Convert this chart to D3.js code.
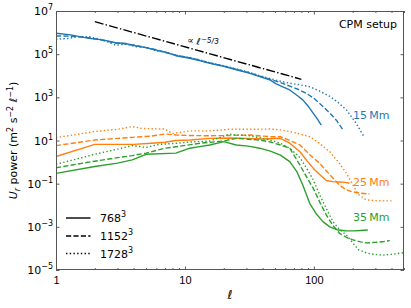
<!DOCTYPE html>
<html>
<head>
<meta charset="utf-8">
<script src="https://cdn.jsdelivr.net/npm/d3@7"></script>
<style>
  body { margin: 0; background: #fff; }
  svg { font-family: "DejaVu Sans", sans-serif; }
</style>
</head>
<body>
<svg id="chart" width="411" height="308"></svg>
<script>
// spectra: [ell, power]
var blue768 = [[1,9.3e5],[1.3,7.8e5],[1.8,5.4e5],[2.3,4.6e5],[2.9,3.4e5],[3.5,3.1e5],[4.2,2.4e5],[5,2.0e5],[6,1.55e5],[7.2,1.2e5],[8.5,8.5e4],[10.9,6.5e4],[13,5.0e4],[15.6,3.8e4],[20,2.7e4],[25,1.9e4],[31,1.35e4],[38,9.1e3],[46,6.3e3],[51,4.2e3],[58,3.0e3],[65,2.2e3],[76,1.1e3],[82,760],[90,400],[99,180],[107,95],[114,52]];
var blue1152 = [[1,7.0e5],[1.3,6.8e5],[1.8,5.8e5],[2.3,4.4e5],[2.9,3.3e5],[3.5,3.0e5],[4.2,2.5e5],[5,2.0e5],[6,1.6e5],[7.2,1.15e5],[8.5,9.0e4],[10.9,6.8e4],[13,5.2e4],[15.6,3.9e4],[20,2.8e4],[25,2.0e4],[31,1.4e4],[38,9.6e3],[46,6.8e3],[55,4.8e3],[65,3.3e3],[76,2.3e3],[88,1.5e3],[100,900],[118,370],[135,170],[150,85],[168,31]];
var blue1728 = [[1,4.9e5],[1.26,5.4e5],[1.5,6.5e5],[1.8,6.5e5],[2.3,4.6e5],[2.9,2.6e5],[3.5,2.9e5],[4.2,2.2e5],[5,2.1e5],[6,1.4e5],[7.2,1.25e5],[8.5,8.8e4],[10.9,7.0e4],[13,5.4e4],[15.6,4.0e4],[20,2.9e4],[25,2.1e4],[31,1.5e4],[38,1.0e4],[46,7.3e3],[55,5.6e3],[65,4.5e3],[78,3.8e3],[93,3.1e3],[110,2.0e3],[133,1.1e3],[155,560],[179,260],[210,70],[245,15]];

var orange768 = [[1,1.8],[2,6.6],[3,6.6],[4,6.6],[5.5,7.5],[7,8.3],[8.5,10],[11,10.5],[15.6,12.6],[22,13],[30,12.5],[40,11.7],[46,12],[55,12.6],[65,7.5],[78,3.0],[88,1.2],[99,0.51],[112,0.25],[125,0.14],[140,0.125],[158,0.12],[175,0.115],[189,0.105]];
var orange1152 = [[1,5.8],[2,10.5],[3,12.5],[3.9,14],[5.5,16],[7,20],[8.5,18],[11,17],[15.6,16.6],[22,17],[32,18],[40,16],[46,15],[55,15],[65,10],[78,6.2],[93,2.2],[111,0.87],[130,0.3],[158,0.087],[175,0.055],[195,0.043],[230,0.036],[270,0.033]];
var orange1728 = [[1,13.5],[2,26],[3,33],[3.9,44],[4.7,36],[7,34],[8,21],[11,28],[15.6,28],[22,33],[32,33],[46,34],[55,31],[65,26],[78,20],[93,15],[110,7.5],[133,3.0],[155,1.0],[179,0.30],[200,0.09],[223,0.030],[250,0.019],[270,0.017],[330,0.016],[400,0.016]];

var green768 = [[1,0.30],[2,0.62],[3,0.9],[3.9,1.26],[5,2.3],[8.5,2.6],[10.9,4.4],[13,5.2],[15.6,6.2],[20,8.9],[25,6.2],[31,5.5],[38,4.4],[46,3.2],[55,2.1],[65,1.05],[74,0.35],[82,0.087],[93,0.012],[105,3.8e-3],[118,1.7e-3],[133,1.0e-3],[154,7.1e-4],[175,6.6e-4],[201,6.5e-4],[230,6.8e-4],[262,7.1e-4]];
var green1152 = [[1,0.55],[2,1.1],[3,1.6],[3.9,2.0],[5,2.6],[7,4.4],[8.5,5.1],[13,7.4],[20,9.5],[25,12.6],[31,11.5],[38,10.5],[46,8.5],[55,6.2],[65,4.4],[78,0.72],[88,0.2],[99,0.06],[111,0.014],[125,3.5e-3],[140,1.2e-3],[158,5e-4],[180,3.2e-4],[201,2.5e-4],[230,2.0e-4],[254,1.8e-4],[300,1.9e-4],[350,2.1e-4],[388,2.3e-4]];
var green1728 = [[1,0.79],[2,2.3],[3,4.0],[3.9,5.8],[5,4.8],[6.3,6.6],[8.5,7.4],[11,8.5],[15.6,9.5],[22,19.5],[32,16.6],[40,12.5],[46,10.5],[55,7.4],[65,4.4],[78,1.6],[88,0.51],[99,0.15],[111,0.030],[125,7e-3],[141,1.7e-3],[160,7e-4],[179,4.2e-4],[200,1.8e-4],[223,8.5e-5],[260,6e-5],[300,5.2e-5],[344,4.9e-5],[420,5.5e-5],[494,6.3e-5]];

var slopeRef = [[2,3.2e6],[80,3.2e6*Math.pow(40,-5/3)]];

var xTicksMajor = [1, 10, 100];
var xTickLabels = ["1", "10", "100"];
var yTickExps = [-5, -3, -1, 1, 3, 5, 7];
var resLabels = ["768", "1152", "1728"];
var zoneLabels = ["15\u2009Mm", "25\u2009Mm", "35\u2009Mm"];

var BLUE = '#1f77b4', ORANGE = '#ff7f0e', GREEN = '#2ca02c';
var lw = 1.4;
var dashes = [null, (3.7*lw)+','+(1.6*lw), lw+','+(1.65*lw)];

var svg = d3.select('#chart');
var m = {left: 56, right: 404, top: 11, bottom: 270};

var x = d3.scaleLog().domain([1, 500]).range([m.left, m.right]);
var y = d3.scaleLog().domain([1e-5, 1e7]).range([m.bottom, m.top]);

var plot = svg.append('g');
plot.append('clipPath').attr('id', 'clip')
  .append('rect').attr('x', m.left).attr('y', m.top)
  .attr('width', m.right - m.left).attr('height', m.bottom - m.top);

var line = d3.line()
  .x(function(d){ return x(d[0]); })
  .y(function(d){ return y(d[1]); });

var curves = [
  {data: blue768, color: BLUE, style: 0},
  {data: blue1152, color: BLUE, style: 1},
  {data: blue1728, color: BLUE, style: 2},
  {data: orange768, color: ORANGE, style: 0},
  {data: orange1152, color: ORANGE, style: 1},
  {data: orange1728, color: ORANGE, style: 2},
  {data: green768, color: GREEN, style: 0},
  {data: green1152, color: GREEN, style: 1},
  {data: green1728, color: GREEN, style: 2}
];

var g = plot.append('g').attr('clip-path', 'url(#clip)');
curves.forEach(function(c){
  g.append('path')
    .attr('d', line(c.data))
    .attr('fill', 'none')
    .attr('stroke', c.color)
    .attr('stroke-width', lw)
    .attr('stroke-dasharray', dashes[c.style])
    .attr('stroke-linejoin', 'round');
});

// reference slope
g.append('path')
  .attr('d', line(slopeRef))
  .attr('fill', 'none')
  .attr('stroke', '#000')
  .attr('stroke-width', lw)
  .attr('stroke-dasharray', (6.4*lw)+','+(1.6*lw)+','+lw+','+(1.6*lw));

var sl = svg.append('text')
  .attr('transform', 'translate(187,43) rotate(8)')
  .attr('font-size', 9);
sl.append('tspan').text('\u221D ');
sl.append('tspan').attr('font-style', 'italic').text('\u2113');
sl.append('tspan').attr('dy', -3.5).attr('font-size', 7.5).text('\u22125/3');

// axes: ticks inside on all four sides
function ticksX(axisGen, yPos) {
  var ax = svg.append('g').attr('transform', 'translate(0,' + yPos + ')').call(axisGen);
  ax.select('.domain').remove();
  ax.selectAll('line').attr('stroke', '#333').attr('stroke-width', 0.8);
  return ax;
}

var xMinor = [];
[1, 10, 100].forEach(function(d){
  for (var k = 2; k <= 9; k++) { if (d*k <= 500) xMinor.push(d*k); }
});

var xb = ticksX(d3.axisBottom(x).tickValues(xTicksMajor).tickSize(-3.5).tickFormat(function(d, i){ return xTickLabels[i]; }), m.bottom);
xb.selectAll('text').attr('font-size', 11).attr('fill', '#000').attr('y', 6).attr('dy', '0.71em');
ticksX(d3.axisBottom(x).tickValues(xMinor).tickSize(-2).tickFormat(''), m.bottom);
ticksX(d3.axisTop(x).tickValues(xTicksMajor).tickSize(-3.5).tickFormat(''), m.top);
ticksX(d3.axisTop(x).tickValues(xMinor).tickSize(-2).tickFormat(''), m.top);

var yVals = yTickExps.map(function(e){ return Math.pow(10, e); });
var yl = svg.append('g').attr('transform', 'translate(' + m.left + ',0)')
  .call(d3.axisLeft(y).tickValues(yVals).tickSize(-3.5).tickFormat(''));
yl.select('.domain').remove();
yl.selectAll('line').attr('stroke', '#333').attr('stroke-width', 0.8);
var yr = svg.append('g').attr('transform', 'translate(' + m.right + ',0)')
  .call(d3.axisRight(y).tickValues(yVals).tickSize(-3.5).tickFormat(''));
yr.select('.domain').remove();
yr.selectAll('line').attr('stroke', '#333').attr('stroke-width', 0.8);

yTickExps.forEach(function(e){
  var t = svg.append('text')
    .attr('x', m.left - 3)
    .attr('y', y(Math.pow(10, e)) + 4)
    .attr('text-anchor', 'end')
    .attr('font-size', 11);
  t.append('tspan').text('10');
  t.append('tspan').attr('dy', -5).attr('font-size', 8)
    .text(e < 0 ? '\u2212' + (-e) : String(e));
});

svg.append('rect')
  .attr('x', m.left + 0.5).attr('y', m.top + 0.5)
  .attr('width', m.right - m.left - 1).attr('height', m.bottom - m.top - 1)
  .attr('fill', 'none').attr('stroke', '#555').attr('stroke-width', 1);

// axis labels
svg.append('text')
  .attr('x', 230).attr('y', 299)
  .attr('text-anchor', 'middle')
  .attr('font-size', 12).attr('font-style', 'italic')
  .text('\u2113');

var yt = svg.append('text')
  .attr('transform', 'translate(17,' + ((m.top + m.bottom) / 2) + ') rotate(-90)')
  .attr('text-anchor', 'middle')
  .attr('font-size', 11);
yt.append('tspan').attr('font-style', 'italic').text('U');
yt.append('tspan').attr('font-style', 'italic').attr('font-size', 8).attr('dy', 2.5).text('r');
yt.append('tspan').attr('dy', -2.5).text(' power (m');
yt.append('tspan').attr('font-size', 8).attr('dy', -4).text('2');
yt.append('tspan').attr('dy', 4).text(' s');
yt.append('tspan').attr('font-size', 8).attr('dy', -4).text('\u22122');
yt.append('tspan').attr('dy', 4).text(' ');
yt.append('tspan').attr('font-style', 'italic').text('\u2113');
yt.append('tspan').attr('font-size', 8).attr('dy', -4).text('\u22121');
yt.append('tspan').attr('dy', 4).text(')');

svg.append('text')
  .attr('x', 397).attr('y', 28)
  .attr('text-anchor', 'end')
  .attr('font-size', 11)
  .text('CPM setup');

// zone labels on the right
var zoneColors = [BLUE, ORANGE, GREEN];
var zoneY = [119, 186, 221];
zoneLabels.forEach(function(lbl, i){
  svg.append('text')
    .attr('x', 353).attr('y', zoneY[i])
    .attr('font-size', 11)
    .attr('fill', zoneColors[i])
    .text(lbl);
});

// legend
var legY = [218, 236, 253.5];
resLabels.forEach(function(lbl, i){
  svg.append('line')
    .attr('x1', 66).attr('x2', 90.5)
    .attr('y1', legY[i]).attr('y2', legY[i])
    .attr('stroke', '#000').attr('stroke-width', lw)
    .attr('stroke-dasharray', dashes[i]);
  var t = svg.append('text')
    .attr('x', 100).attr('y', legY[i] + 4)
    .attr('font-size', 11);
  t.append('tspan').text(lbl);
  t.append('tspan').attr('dy', -5).attr('font-size', 8).text('3');
});
</script>
</body>
</html>
